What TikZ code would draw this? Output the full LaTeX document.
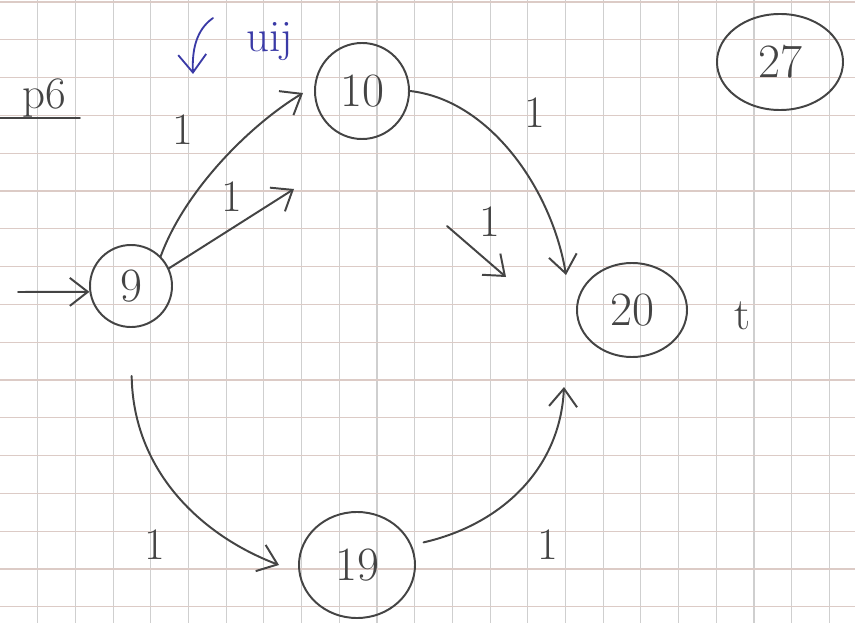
\documentclass[tikz,border=0pt]{standalone}
\usetikzlibrary{arrows.meta,shapes.geometric}
\definecolor{ink}{HTML}{444444}
\definecolor{bluepen}{HTML}{3A3AA6}
\definecolor{gridv}{HTML}{CFCFCF}
\definecolor{gridh}{HTML}{DCCBC6}
\tikzset{
    sketch graph/.style = {>={Straight Barb[length=4.5mm, width=7mm]}},
    pen/.style          = {draw=ink, line width=1.4pt, line cap=round},
    bluepen/.style      = {draw=bluepen, line width=1.3pt, line cap=round},
    state/.style        = {pen, ellipse, inner sep=0pt, text=ink,
                           font=\fontsize{34}{36}\selectfont},
    weight/.style       = {text=ink, font=\fontsize{32}{34}\selectfont},
    gridline/.style     = {line width=0.8pt}
}

\begin{document}
\begin{tikzpicture}[sketch graph, x=0.025cm, y=-0.025cm]
\useasboundingbox (0,0) rectangle (855,623);

% Squared paper
\foreach \k in {1,...,22}
    \draw[gridline, gridv] (37.7*\k,0) -- (37.7*\k,623);
\foreach \k in {0,...,16}
    \draw[gridline, gridh] (0,2+37.8*\k) -- (855,2+37.8*\k);

% Title
\node[weight] (title) at (44,98) {p6};
\draw[pen] (0,118) -- (80,118);

% States
\node[state, minimum width=2.05cm, minimum height=2.05cm] (n9)  at (131,286) {9};
\node[state, minimum width=2.35cm, minimum height=2.4cm]  (n10) at (362,91)  {10};
\node[state, minimum width=2.75cm, minimum height=2.35cm] (n20) at (632,310) {20};
\node[state, minimum width=2.9cm,  minimum height=2.65cm] (n19) at (357,565) {19};
\node[state, minimum width=3.15cm, minimum height=2.4cm]  (n27) at (780,62)  {27};
\node[weight] (tlabel) at (742,316) {t};

% Free arrow ends
\coordinate (in9)  at (18,292);
\coordinate (e10a) at (303,93);
\coordinate (e10b) at (294,189);
\coordinate (e20a) at (566,275);
\coordinate (s20)  at (447,226);
\coordinate (e20b) at (506,277);
\coordinate (e19)  at (279,565);
\coordinate (e20c) at (564,387);

% Arcs
\draw[pen, ->] (in9) -- (n9.188);
\draw[pen, ->] (n9.45) .. controls (185,190) and (250,125) .. (e10a);
\draw[pen, ->] (n9.25) -- (e10b);
\draw[pen, ->] (n10.east) .. controls (490,100) and (552,190) .. (e20a);
\draw[pen, ->] (s20) -- (e20b);
\draw[pen, ->, shorten <=1.2cm] (n9.south) .. controls (133,470) and (200,535) .. (e19);
\draw[pen, ->, shorten <=0.3cm] (n19.20) .. controls (500,525) and (560,470) .. (e20c);

% Weights
\node[weight] (w9a)  at (183,130) {1};
\node[weight] (w9b)  at (232,197) {1};
\node[weight] (w10)  at (535,113) {1};
\node[weight] (w20)  at (490,222) {1};
\node[weight] (w19)  at (155,545) {1};
\node[weight] (w19b) at (548,545) {1};

% Annotation in blue
\node[text=bluepen, font=\fontsize{32}{34}\selectfont] (uij) at (270,42) {uij};
\coordinate (uA) at (213,18);
\coordinate (uB) at (193,74);
\draw[bluepen, ->] (uA) .. controls (196,30) and (192,50) .. (uB);

\end{tikzpicture}
\end{document}
